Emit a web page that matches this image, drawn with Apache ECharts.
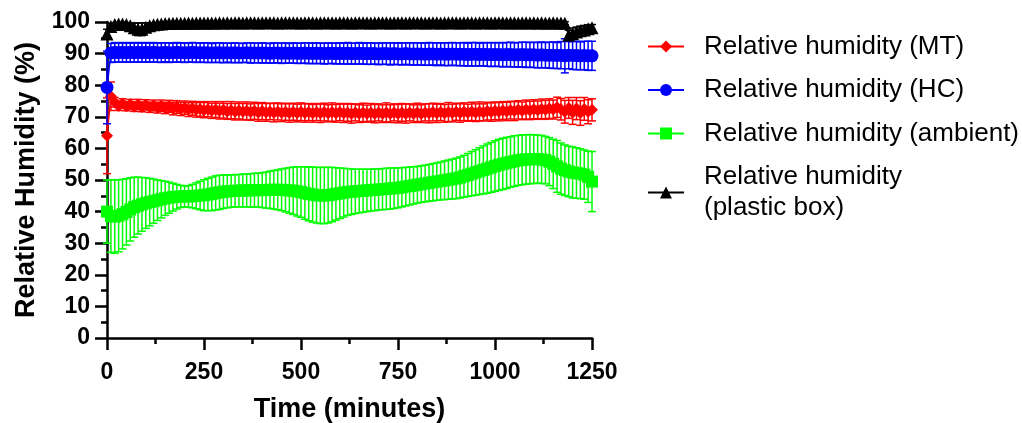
<!DOCTYPE html>
<html>
<head>
<meta charset="utf-8">
<script src="https://cdn.jsdelivr.net/npm/echarts@6/dist/echarts.min.js"></script>
<style>
  html, body { margin: 0; padding: 0; background: #ffffff; }
  #chart { width: 1022px; height: 423px; }
</style>
</head>
<body>
<div id="chart"></div>
<script>
// Sampling times (minutes)
const TIME = [
  0, 10, 20, 30, 40, 50, 60, 70, 80, 90,
  100, 110, 120, 130, 140, 150, 160, 170, 180, 190,
  200, 210, 220, 230, 240, 250, 260, 270, 280, 290,
  300, 310, 320, 330, 340, 350, 360, 370, 380, 390,
  400, 410, 420, 430, 440, 450, 460, 470, 480, 490,
  500, 510, 520, 530, 540, 550, 560, 570, 580, 590,
  600, 610, 620, 630, 640, 650, 660, 670, 680, 690,
  700, 710, 720, 730, 740, 750, 760, 770, 780, 790,
  800, 810, 820, 830, 840, 850, 860, 870, 880, 890,
  900, 910, 920, 930, 940, 950, 960, 970, 980, 990,
  1000, 1010, 1020, 1030, 1040, 1050, 1060, 1070, 1080, 1090,
  1100, 1110, 1120, 1130, 1140, 1150, 1160, 1170, 1180, 1190,
  1200, 1210, 1220, 1230, 1240, 1250
];

// Relative humidity (MT): mean and SD
const MT_MEAN = [
  64.0, 76.5, 74.6, 73.4, 74.2, 73.3, 74.0, 73.2, 73.9, 73.1,
  73.8, 73.0, 73.6, 72.9, 73.5, 72.8, 73.3, 72.6, 73.1, 72.5,
  72.9, 72.3, 72.7, 72.2, 72.5, 72.1, 72.4, 71.9, 72.3, 71.8,
  72.2, 71.7, 72.1, 71.6, 72.0, 71.6, 71.9, 71.5, 71.9, 71.4,
  71.8, 71.4, 71.7, 71.3, 71.7, 71.3, 71.6, 71.2, 71.6, 71.2,
  71.6, 71.2, 71.5, 71.1, 71.5, 71.1, 71.5, 71.1, 71.5, 71.1,
  71.5, 71.1, 71.4, 71.0, 71.4, 71.0, 71.4, 71.0, 71.4, 71.0,
  71.4, 71.0, 71.4, 71.0, 71.4, 71.0, 71.4, 71.0, 71.4, 71.0,
  71.4, 71.0, 71.4, 71.1, 71.5, 71.1, 71.5, 71.1, 71.5, 71.2,
  71.6, 71.2, 71.6, 71.3, 71.7, 71.3, 71.7, 71.4, 71.8, 71.5,
  71.9, 71.6, 72.0, 71.7, 72.1, 71.8, 72.2, 71.9, 72.3, 72.0,
  72.4, 72.1, 72.5, 72.2, 72.6, 72.3, 73.0, 72.4, 71.6, 72.8,
  71.4, 72.6, 71.2, 72.5, 71.6, 72.2
];
const MT_SD = [
  12.0, 4.5, 1.5, 1.4, 1.5, 1.4, 1.5, 1.5, 1.6, 1.5,
  1.6, 1.6, 1.7, 1.7, 1.8, 1.8, 1.9, 2.0, 2.0, 2.1,
  2.1, 2.2, 2.2, 2.3, 2.3, 2.4, 2.4, 2.4, 2.5, 2.5,
  2.6, 2.5, 2.7, 2.6, 2.7, 2.6, 2.8, 2.6, 2.7, 2.8,
  2.7, 2.8, 2.6, 2.9, 2.7, 2.8, 2.7, 2.9, 2.7, 2.8,
  2.8, 2.9, 2.7, 2.8, 2.7, 2.9, 2.8, 2.7, 2.9, 2.8,
  2.7, 2.9, 2.8, 3.0, 2.7, 2.8, 2.9, 2.7, 2.8, 2.9,
  2.7, 2.8, 3.0, 2.8, 2.7, 2.9, 2.8, 3.0, 2.7, 2.8,
  2.9, 2.8, 2.7, 3.0, 2.8, 2.9, 2.7, 2.8, 3.0, 2.8,
  2.7, 2.9, 2.8, 2.7, 2.9, 2.8, 3.0, 2.7, 2.8, 2.9,
  2.8, 2.9, 2.8, 2.9, 2.8, 3.0, 2.9, 2.8, 3.0, 2.9,
  3.0, 2.9, 3.1, 3.0, 3.1, 3.0, 3.2, 3.4, 3.6, 3.3,
  3.8, 3.5, 3.9, 3.6, 3.8, 3.5
];

// Relative humidity (HC): mean and SD
const HC_MEAN = [
  79.3, 90.2, 90.4, 90.3, 90.4, 90.3, 90.4, 90.3, 90.4, 90.3,
  90.4, 90.3, 90.4, 90.3, 90.3, 90.4, 90.3, 90.3, 90.4, 90.3,
  90.3, 90.3, 90.4, 90.3, 90.3, 90.3, 90.3, 90.2, 90.3, 90.3,
  90.2, 90.3, 90.2, 90.3, 90.2, 90.2, 90.3, 90.2, 90.2, 90.2,
  90.2, 90.2, 90.1, 90.2, 90.2, 90.1, 90.2, 90.1, 90.2, 90.1,
  90.1, 90.2, 90.1, 90.1, 90.1, 90.1, 90.0, 90.1, 90.1, 90.0,
  90.1, 90.0, 90.1, 90.0, 90.0, 90.1, 90.0, 90.0, 90.0, 90.0,
  89.9, 90.0, 90.0, 89.9, 90.0, 89.9, 89.9, 90.0, 89.9, 89.9,
  89.9, 89.9, 89.8, 89.9, 89.9, 89.8, 89.9, 89.8, 89.8, 89.9,
  89.8, 89.8, 89.8, 89.7, 89.8, 89.8, 89.7, 89.8, 89.7, 89.7,
  89.7, 89.7, 89.6, 89.7, 89.7, 89.6, 89.6, 89.7, 89.6, 89.6,
  89.6, 89.5, 89.6, 89.5, 89.5, 89.5, 89.4, 89.5, 89.3, 89.5,
  89.4, 89.4, 89.3, 89.4, 89.3, 89.3
];
const HC_SD = [
  11.5, 3.0, 3.1, 3.0, 3.1, 3.0, 3.1, 3.0, 3.1, 3.0,
  3.1, 3.0, 3.1, 3.0, 3.1, 3.0, 3.1, 3.0, 3.1, 3.0,
  3.1, 3.0, 3.1, 3.1, 3.0, 3.1, 3.1, 3.0, 3.1, 3.1,
  3.1, 3.0, 3.1, 3.1, 3.1, 3.0, 3.1, 3.2, 3.1, 3.1,
  3.2, 3.1, 3.1, 3.2, 3.1, 3.2, 3.2, 3.1, 3.2, 3.2,
  3.2, 3.2, 3.3, 3.2, 3.3, 3.2, 3.3, 3.3, 3.2, 3.3,
  3.3, 3.3, 3.4, 3.3, 3.3, 3.4, 3.3, 3.4, 3.4, 3.3,
  3.4, 3.4, 3.4, 3.5, 3.4, 3.4, 3.5, 3.4, 3.5, 3.5,
  3.5, 3.5, 3.5, 3.6, 3.5, 3.6, 3.5, 3.6, 3.6, 3.6,
  3.6, 3.6, 3.7, 3.6, 3.7, 3.7, 3.6, 3.7, 3.7, 3.8,
  3.7, 3.8, 3.8, 3.8, 3.9, 3.8, 3.9, 3.9, 4.0, 3.9,
  4.0, 4.0, 4.1, 4.0, 4.1, 4.2, 4.1, 4.3, 5.4, 4.3,
  4.4, 4.5, 4.4, 4.5, 4.6, 4.6
];

// Relative humidity (ambient): mean and SD
const AMB_MEAN = [
  40.0, 38.6, 38.4, 38.7, 39.2, 39.9, 40.7, 41.4, 41.9, 42.3,
  42.7, 43.0, 43.3, 43.6, 43.9, 44.2, 44.4, 44.6, 44.7, 44.8,
  44.8, 44.8, 44.9, 45.0, 45.1, 45.2, 45.4, 45.6, 45.9, 46.1,
  46.3, 46.4, 46.5, 46.6, 46.6, 46.7, 46.7, 46.7, 46.8, 46.8,
  46.8, 46.8, 46.9, 46.9, 46.9, 46.9, 46.8, 46.7, 46.6, 46.4,
  46.2, 45.9, 45.6, 45.4, 45.2, 45.1, 45.1, 45.2, 45.4, 45.6,
  45.8, 46.0, 46.2, 46.3, 46.4, 46.5, 46.6, 46.7, 46.8, 46.9,
  47.0, 47.1, 47.2, 47.3, 47.4, 47.5, 47.7, 47.9, 48.1, 48.3,
  48.5, 48.7, 48.9, 49.1, 49.3, 49.5, 49.7, 49.9, 50.1, 50.3,
  50.5, 50.8, 51.2, 51.6, 52.0, 52.4, 52.8, 53.2, 53.6, 54.0,
  54.4, 54.8, 55.1, 55.4, 55.7, 56.0, 56.2, 56.4, 56.5, 56.6,
  56.6, 56.6, 56.5, 56.3, 55.8, 55.1, 54.3, 53.6, 53.1, 52.7,
  52.4, 52.2, 52.0, 51.7, 51.0, 49.5
];
const AMB_SD = [
  10.0, 11.5, 11.6, 11.4, 11.0, 10.5, 10.0, 9.5, 9.0, 8.5,
  8.0, 7.5, 7.0, 6.4, 5.9, 5.4, 4.9, 4.4, 3.9, 3.5,
  3.3, 3.4, 3.7, 4.1, 4.5, 4.9, 5.1, 5.3, 5.4, 5.4,
  5.3, 5.2, 5.1, 5.1, 5.1, 5.2, 5.2, 5.3, 5.3, 5.4,
  5.5, 5.7, 5.9, 6.1, 6.3, 6.6, 6.9, 7.2, 7.5, 7.8,
  8.0, 8.3, 8.5, 8.7, 8.8, 8.9, 8.9, 8.8, 8.6, 8.3,
  8.0, 7.7, 7.4, 7.2, 7.0, 6.9, 6.8, 6.7, 6.6, 6.6,
  6.5, 6.5, 6.5, 6.5, 6.4, 6.3, 6.2, 6.1, 6.0, 5.9,
  5.8, 5.8, 5.8, 5.8, 5.9, 5.9, 6.0, 6.1, 6.2, 6.3,
  6.4, 6.5, 6.6, 6.8, 7.0, 7.2, 7.4, 7.6, 7.8, 7.9,
  8.0, 8.1, 8.1, 8.1, 8.0, 8.0, 7.9, 7.9, 7.8, 7.8,
  7.7, 7.6, 7.6, 7.5, 7.6, 7.8, 8.2, 8.1, 8.0, 8.0,
  8.1, 8.0, 7.9, 7.8, 8.1, 9.5
];

// Relative humidity (plastic box): mean and SD
const BOX_MEAN = [
  96.2, 98.6, 99.2, 99.4, 99.4, 99.2, 98.8, 98.2, 97.7, 97.7,
  98.3, 98.8, 99.1, 99.3, 99.4, 99.5, 99.5, 99.6, 99.6, 99.6,
  99.6, 99.7, 99.6, 99.7, 99.7, 99.7, 99.7, 99.7, 99.7, 99.8,
  99.7, 99.8, 99.7, 99.8, 99.8, 99.7, 99.8, 99.8, 99.8, 99.7,
  99.8, 99.8, 99.8, 99.8, 99.7, 99.8, 99.8, 99.8, 99.8, 99.8,
  99.7, 99.8, 99.8, 99.8, 99.7, 99.8, 99.8, 99.8, 99.8, 99.7,
  99.8, 99.8, 99.8, 99.7, 99.8, 99.8, 99.8, 99.8, 99.7, 99.8,
  99.8, 99.8, 99.8, 99.7, 99.8, 99.8, 99.8, 99.7, 99.8, 99.8,
  99.8, 99.8, 99.7, 99.8, 99.8, 99.8, 99.7, 99.8, 99.8, 99.8,
  99.8, 99.7, 99.8, 99.8, 99.8, 99.7, 99.8, 99.8, 99.8, 99.7,
  99.8, 99.8, 99.8, 99.7, 99.8, 99.8, 99.7, 99.8, 99.8, 99.7,
  99.8, 99.7, 99.8, 99.7, 99.7, 99.8, 99.7, 99.7, 99.6, 95.8,
  96.3, 96.8, 97.2, 97.5, 97.9, 98.2
];
const BOX_SD = [
  1.5, 1.0, 0.6, 0.5, 0.5, 0.6, 0.9, 1.4, 2.0, 2.0,
  1.4, 0.9, 0.6, 0.5, 0.5, 0.4, 0.4, 0.4, 0.4, 0.4,
  0.4, 0.4, 0.4, 0.4, 0.4, 0.4, 0.4, 0.4, 0.4, 0.4,
  0.4, 0.4, 0.4, 0.4, 0.4, 0.4, 0.4, 0.4, 0.4, 0.4,
  0.4, 0.4, 0.4, 0.4, 0.4, 0.4, 0.4, 0.4, 0.4, 0.4,
  0.4, 0.4, 0.4, 0.4, 0.4, 0.4, 0.4, 0.4, 0.4, 0.4,
  0.4, 0.4, 0.4, 0.4, 0.4, 0.4, 0.4, 0.4, 0.4, 0.4,
  0.4, 0.4, 0.4, 0.4, 0.4, 0.4, 0.4, 0.4, 0.4, 0.4,
  0.4, 0.4, 0.4, 0.4, 0.4, 0.4, 0.4, 0.4, 0.4, 0.4,
  0.4, 0.4, 0.4, 0.4, 0.4, 0.4, 0.4, 0.4, 0.4, 0.4,
  0.4, 0.4, 0.4, 0.4, 0.4, 0.4, 0.4, 0.4, 0.4, 0.4,
  0.4, 0.4, 0.4, 0.4, 0.4, 0.4, 0.4, 0.4, 0.5, 1.6,
  1.8, 1.6, 1.5, 1.4, 1.2, 1.0
];

// Series names and tick settings
const SERIES_NAMES = [
  'Relative humidity (MT)',
  'Relative humidity (HC)',
  'Relative humidity (ambient)',
  'Relative humidity (plastic box)'
];
const X_TICKS = { min: 0, max: 1250, interval: 250 };
const Y_TICKS = { min: 0, max: 100, interval: 10 };

const FONT = 'Arial, "Liberation Sans", sans-serif';

function pairs(mean) {
  return TIME.map((t, i) => [t, mean[i]]);
}

// Mean ± SD whiskers with end caps
function errorBars(color, mean, sd, z) {
  return {
    type: 'custom',
    silent: true,
    clip: false,
    z: z,
    encode: { x: 0, y: [1, 2] },
    data: TIME.map((t, i) => [t, mean[i] - sd[i], mean[i] + sd[i]]),
    renderItem: function (params, api) {
      const x = api.value(0);
      const lo = api.coord([x, api.value(1)]);
      const hi = api.coord([x, api.value(2)]);
      const cap = 4;
      const style = { stroke: color, lineWidth: 1.5, fill: null };
      return {
        type: 'group',
        children: [
          { type: 'line', shape: { x1: lo[0], y1: lo[1], x2: hi[0], y2: hi[1] }, style: style },
          { type: 'line', shape: { x1: lo[0] - cap, y1: lo[1], x2: lo[0] + cap, y2: lo[1] }, style: style },
          { type: 'line', shape: { x1: hi[0] - cap, y1: hi[1], x2: hi[0] + cap, y2: hi[1] }, style: style }
        ]
      };
    }
  };
}

function meanLine(name, color, mean, symbol, size, z) {
  return {
    type: 'line',
    name: name,
    data: pairs(mean),
    symbol: symbol,
    symbolSize: size,
    showAllSymbol: true,
    clip: false,
    z: z,
    color: color,
    itemStyle: { color: color, borderWidth: 0 },
    lineStyle: { color: color, width: 1.5 },
    emphasis: { disabled: true },
    animation: false
  };
}

const chart = echarts.init(document.getElementById('chart'), null, { renderer: 'canvas' });

const axisLineStyle = { color: '#000', width: 2.5 };

chart.setOption({
  animation: false,
  backgroundColor: '#ffffff',
  grid: { left: 107, top: 22, width: 485, height: 316, outerBoundsMode: 'none', containLabel: false },
  legend: {
    orient: 'vertical',
    left: 642,
    top: 26,
    itemWidth: 36,
    itemHeight: 15,
    itemGap: 12.5,
    data: SERIES_NAMES,
    formatter: function (name) {
      return name === 'Relative humidity (plastic box)'
        ? 'Relative humidity\n(plastic box)' : name;
    },
    textStyle: {
      fontFamily: FONT,
      fontSize: 26,
      color: '#000',
      lineHeight: 31,
      padding: [0, 0, 0, 15]
    },
    selectedMode: false
  },
  xAxis: {
    type: 'value',
    min: X_TICKS.min,
    max: X_TICKS.max,
    interval: X_TICKS.interval,
    name: 'Time (minutes)',
    nameLocation: 'middle',
    nameGap: 58,
    nameTextStyle: { fontFamily: FONT, fontSize: 27, fontWeight: 'bold', color: '#000' },
    axisLine: { show: true, onZero: false, lineStyle: axisLineStyle },
    axisTick: { show: true, length: 12, lineStyle: axisLineStyle },
    minorTick: { show: true, splitNumber: 2, length: 6, lineStyle: axisLineStyle },
    splitLine: { show: false },
    axisLabel: {
      fontFamily: FONT, fontSize: 23, fontWeight: 'bold', color: '#000', margin: 23,
      formatter: function (v) { return String(v); }
    }
  },
  yAxis: {
    type: 'value',
    min: Y_TICKS.min,
    max: Y_TICKS.max,
    interval: Y_TICKS.interval,
    name: 'Relative Humidity (%)',
    nameLocation: 'middle',
    nameGap: 67,
    nameTextStyle: { fontFamily: FONT, fontSize: 27, fontWeight: 'bold', color: '#000' },
    axisLine: { show: true, onZero: false, lineStyle: axisLineStyle },
    axisTick: { show: true, length: 12, lineStyle: axisLineStyle },
    minorTick: { show: true, splitNumber: 2, length: 6, lineStyle: axisLineStyle },
    splitLine: { show: false },
    axisLabel: {
      fontFamily: FONT, fontSize: 23, fontWeight: 'bold', color: '#000', margin: 17,
      formatter: function (v) { return String(v); }
    }
  },
  series: [
    errorBars('#00ff00', AMB_MEAN, AMB_SD, 2),
    meanLine(SERIES_NAMES[2], '#00ff00', AMB_MEAN, 'rect', 12, 3),
    errorBars('#ff0000', MT_MEAN, MT_SD, 4),
    meanLine(SERIES_NAMES[0], '#ff0000', MT_MEAN, 'diamond', 12, 5),
    errorBars('#0000ff', HC_MEAN, HC_SD, 6),
    meanLine(SERIES_NAMES[1], '#0000ff', HC_MEAN, 'circle', 13, 7),
    errorBars('#000000', BOX_MEAN, BOX_SD, 8),
    meanLine(SERIES_NAMES[3], '#000000', BOX_MEAN, 'triangle', 13, 9)
  ]
});
</script>
</body>
</html>
